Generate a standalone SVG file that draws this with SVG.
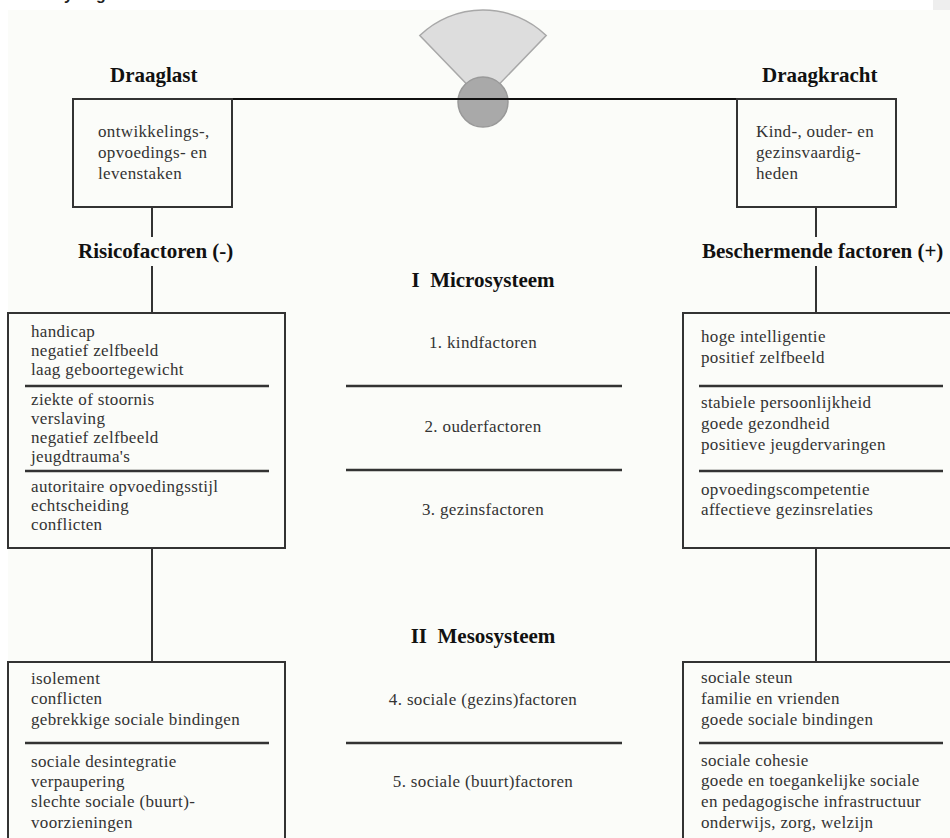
<svg xmlns="http://www.w3.org/2000/svg" width="950" height="838" viewBox="0 0 950 838">
<style>
  .bg { fill: #fbfcf9; }
  .box { fill: none; stroke: #333; stroke-width: 2; }
  .sep { stroke: #333; stroke-width: 2.5; }
  .conn { stroke: #333; stroke-width: 2; fill: none; }
  .beam { stroke: #111; stroke-width: 2; }
  .t { font-family: "Liberation Serif", "Times New Roman", serif; font-size: 17px; letter-spacing: 0.35px; fill: #333; }
  .h { font-family: "Liberation Serif", "Times New Roman", serif; font-size: 21px; font-weight: bold; fill: #111; }
  .c { text-anchor: middle; }
</style>
<rect x="0" y="0" width="950" height="838" fill="#ffffff"/>
<rect class="bg" x="8" y="10" width="942" height="828"/>
<rect x="933" y="0" width="17" height="10" fill="#eeeeee"/>
<text font-family="Liberation Sans, Arial, sans-serif" font-size="16" font-weight="bold" fill="#222" y="0"><tspan x="64">y</tspan><tspan x="96">g</tspan></text>

<g id="balance">
  <path d="M483,101 L419.8,35.5 A91,91 0 0,1 546.2,35.5 Z" fill="#dddddd" stroke="#a8a8a8" stroke-width="1.5"/>
  <circle cx="483" cy="102" r="25" fill="#a9a9a9" stroke="#999" stroke-width="1.5"/>
</g>

<g id="connectors">
  <line class="beam" x1="73" y1="99" x2="896" y2="99"/>
  <line class="conn" x1="152" y1="207" x2="152" y2="237"/>
  <line class="conn" x1="152" y1="266" x2="152" y2="313"/>
  <line class="conn" x1="152" y1="548" x2="152" y2="662"/>
  <line class="conn" x1="816" y1="207" x2="816" y2="237"/>
  <line class="conn" x1="816" y1="266" x2="816" y2="313"/>
  <line class="conn" x1="816" y1="548" x2="816" y2="662"/>
</g>

<g id="draaglast">
  <text class="h" x="110" y="82">Draaglast</text>
</g>
<g id="draagkracht">
  <text class="h" x="762" y="82">Draagkracht</text>
</g>

<g id="taken">
  <rect class="box" x="73" y="99" width="159" height="108"/>
  <text class="t" x="98" y="137">ontwikkelings-,</text>
  <text class="t" x="98" y="158">opvoedings- en</text>
  <text class="t" x="98" y="179">levenstaken</text>
</g>

<g id="vaardigheden">
  <rect class="box" x="737" y="99" width="159" height="108"/>
  <text class="t" x="756" y="137">Kind-, ouder- en</text>
  <text class="t" x="756" y="158">gezinsvaardig-</text>
  <text class="t" x="756" y="179">heden</text>
</g>

<g id="risicofactoren">
  <text class="h" x="78" y="258">Risicofactoren (-)</text>
</g>
<g id="beschermende">
  <text class="h" x="702" y="258">Beschermende factoren (+)</text>
</g>

<g id="micro-risico">
  <rect class="box" x="8" y="313" width="277" height="235"/>
  <line class="sep" x1="25" y1="386" x2="269" y2="386"/>
  <line class="sep" x1="25" y1="471" x2="269" y2="471"/>
  <text class="t" x="31" y="337">handicap</text>
  <text class="t" x="31" y="356">negatief zelfbeeld</text>
  <text class="t" x="31" y="375">laag geboortegewicht</text>
  <text class="t" x="31" y="405">ziekte of stoornis</text>
  <text class="t" x="31" y="424">verslaving</text>
  <text class="t" x="31" y="443">negatief zelfbeeld</text>
  <text class="t" x="31" y="462">jeugdtrauma's</text>
  <text class="t" x="31" y="492">autoritaire opvoedingsstijl</text>
  <text class="t" x="31" y="511">echtscheiding</text>
  <text class="t" x="31" y="530">conflicten</text>
</g>

<g id="micro-bescherm">
  <rect class="box" x="683" y="313" width="280" height="235"/>
  <line class="sep" x1="699" y1="386" x2="943" y2="386"/>
  <line class="sep" x1="699" y1="471" x2="943" y2="471"/>
  <text class="t" x="701" y="342">hoge intelligentie</text>
  <text class="t" x="701" y="363">positief zelfbeeld</text>
  <text class="t" x="701" y="408">stabiele persoonlijkheid</text>
  <text class="t" x="701" y="429">goede gezondheid</text>
  <text class="t" x="701" y="450">positieve jeugdervaringen</text>
  <text class="t" x="701" y="495">opvoedingscompetentie</text>
  <text class="t" x="701" y="515">affectieve gezinsrelaties</text>
</g>

<g id="microsysteem">
  <text class="h c" x="483" y="287" xml:space="preserve">I  Microsysteem</text>
  <text class="t c" x="483" y="348">1. kindfactoren</text>
  <line class="sep" x1="346" y1="386" x2="622" y2="386"/>
  <text class="t c" x="483" y="432">2. ouderfactoren</text>
  <line class="sep" x1="346" y1="470" x2="622" y2="470"/>
  <text class="t c" x="483" y="515">3. gezinsfactoren</text>
</g>

<g id="mesosysteem">
  <text class="h c" x="483" y="643" xml:space="preserve">II  Mesosysteem</text>
  <text class="t c" x="483" y="705">4. sociale (gezins)factoren</text>
  <line class="sep" x1="346" y1="743" x2="622" y2="743"/>
  <text class="t c" x="483" y="787">5. sociale (buurt)factoren</text>
</g>

<g id="meso-risico">
  <rect class="box" x="8" y="662" width="277" height="200"/>
  <line class="sep" x1="25" y1="743" x2="269" y2="743"/>
  <text class="t" x="31" y="684">isolement</text>
  <text class="t" x="31" y="704">conflicten</text>
  <text class="t" x="31" y="725">gebrekkige sociale bindingen</text>
  <text class="t" x="31" y="767">sociale desintegratie</text>
  <text class="t" x="31" y="787">verpaupering</text>
  <text class="t" x="31" y="807">slechte sociale (buurt)-</text>
  <text class="t" x="31" y="828">voorzieningen</text>
</g>

<g id="meso-bescherm">
  <rect class="box" x="683" y="662" width="280" height="200"/>
  <line class="sep" x1="699" y1="743" x2="943" y2="743"/>
  <text class="t" x="701" y="683">sociale steun</text>
  <text class="t" x="701" y="704">familie en vrienden</text>
  <text class="t" x="701" y="725">goede sociale bindingen</text>
  <text class="t" x="701" y="766">sociale cohesie</text>
  <text class="t" x="701" y="786">goede en toegankelijke sociale</text>
  <text class="t" x="701" y="807">en pedagogische infrastructuur</text>
  <text class="t" x="701" y="828">onderwijs, zorg, welzijn</text>
</g>
</svg>
